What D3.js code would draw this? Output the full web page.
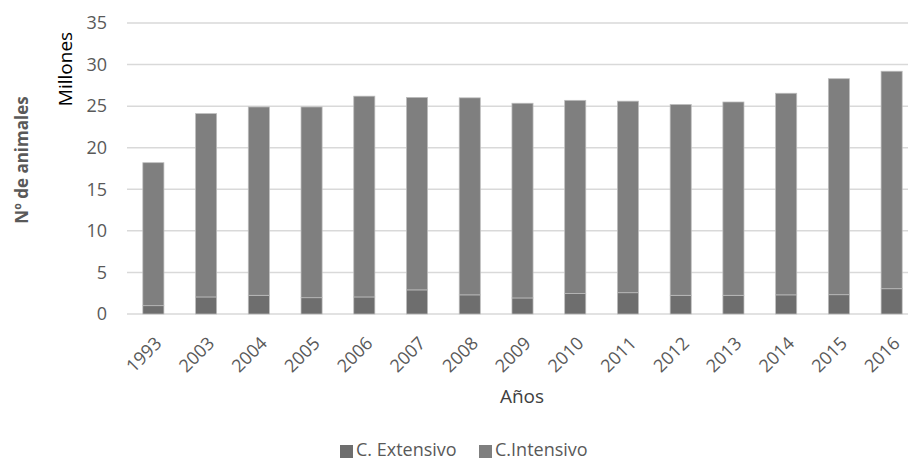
<!DOCTYPE html>
<html>
<head>
<meta charset="utf-8">
<style>
  body { margin: 0; background: #fff; font-family: 'Open Sans', sans-serif; }
  svg { display: block; overflow: hidden; }
</style>
</head>
<body>
<svg width="908" height="462"></svg>
<script src="https://d3js.org/d3.v7.min.js"></script>
<script>
  // data (millions of animals)
  let years = ["1993", "2003", "2004", "2005", "2006", "2007", "2008", "2009", "2010", "2011", "2012", "2013", "2014", "2015", "2016"]
  let extensivo = [1.0, 2.05, 2.25, 1.96, 2.05, 2.9, 2.3, 1.93, 2.45, 2.56, 2.25, 2.25, 2.3, 2.32, 3.04]
  let totals = [18.2, 24.1, 24.9, 24.9, 26.2, 26.05, 26.0, 25.35, 25.7, 25.6, 25.2, 25.5, 26.55, 28.3, 29.2]
  let intensivo = totals.map((t, i) => +(t - extensivo[i]).toFixed(2))
  let yTicks = [0, 5, 10, 15, 20, 25, 30, 35]
  let seriesNames = ["C. Extensivo", "C.Intensivo"]
  let colors = ["#6e6e6e", "#7f7f7f"]

  let rows = years.map((y, i) => ({ year: y, ext: extensivo[i], int: intensivo[i] }))
  let stack = d3.stack().keys(["ext", "int"])(rows)

  let svg = d3.select("svg")

  let x = d3.scaleBand()
    .domain(years)
    .range([127, 918])
    .paddingInner(0.6)
    .paddingOuter(0.3)

  let y = d3.scaleLinear()
    .domain([0, 35])
    .range([314, 23])

  // gridlines
  svg.append("g")
    .selectAll("line")
    .data(yTicks)
    .join("line")
    .attr("x1", 127)
    .attr("x2", 908)
    .attr("y1", d => y(d))
    .attr("y2", d => y(d))
    .style("stroke", "#d9d9d9")
    .style("stroke-width", 1.5)

  // y tick labels
  svg.append("g")
    .selectAll("text")
    .data(yTicks)
    .join("text")
    .attr("x", 107)
    .attr("y", d => y(d))
    .attr("dy", "0.35em")
    .attr("text-anchor", "end")
    .style("font-size", "18px")
    .style("fill", "#595959")
    .text(d => d)

  // bars
  svg.append("g")
    .selectAll("g")
    .data(stack)
    .join("g")
    .style("fill", (d, i) => colors[i])
    .selectAll("rect")
    .data(d => d)
    .join("rect")
    .attr("x", d => x(d.data.year))
    .attr("width", x.bandwidth())
    .attr("y", d => y(d[1]))
    .attr("height", d => y(d[0]) - y(d[1]))
    .style("stroke", "#bdbdbd")
    .style("stroke-width", 0.75)

  // x tick labels
  svg.append("g")
    .selectAll("text")
    .data(years)
    .join("text")
    .attr("transform", d => `translate(${x(d) + x.bandwidth() / 2 + 5},${340}) rotate(-45)`)
    .attr("text-anchor", "end")
    .attr("dy", "0.35em")
    .style("font-size", "18px")
    .style("fill", "#595959")
    .text(d => d)

  // axis titles
  svg.append("text")
    .attr("x", 522)
    .attr("y", 403)
    .attr("text-anchor", "middle")
    .style("font-size", "19px")
    .style("fill", "#404040")
    .text("Años")

  svg.append("text")
    .attr("transform", "translate(72,69) rotate(-90)")
    .attr("text-anchor", "middle")
    .style("font-size", "19px")
    .style("fill", "#000")
    .text("Millones")

  svg.append("text")
    .attr("transform", "translate(28,160) rotate(-90)")
    .attr("text-anchor", "middle")
    .style("font-size", "17px")
    .style("font-weight", "bold")
    .style("fill", "#595959")
    .text("Nº de animales")

  // legend
  let legendX = [340, 479]
  let legend = svg.append("g")
    .selectAll("g")
    .data(seriesNames)
    .join("g")
    .attr("transform", (d, i) => `translate(${legendX[i]},456)`)

  legend.append("rect")
    .attr("x", 0)
    .attr("y", -11)
    .attr("width", 13)
    .attr("height", 13)
    .style("fill", (d, i) => colors[i])

  legend.append("text")
    .attr("x", 16)
    .attr("y", 0)
    .style("font-size", "18px")
    .style("fill", "#595959")
    .text(d => d)
</script>
</body>
</html>
